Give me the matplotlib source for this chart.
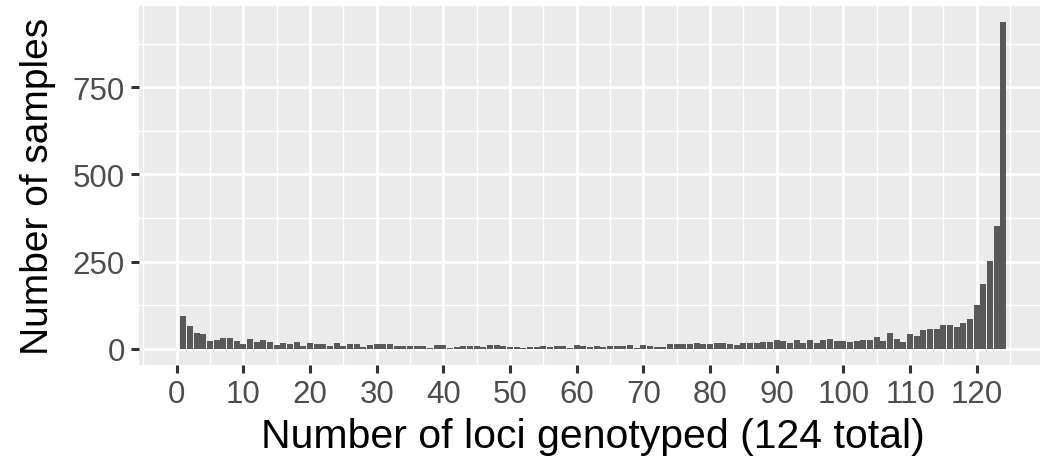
import matplotlib
matplotlib.use("Agg")
import matplotlib.pyplot as plt
from matplotlib.ticker import MultipleLocator

loci = list(range(1, 125))
samples = [
    95, 66, 46, 43, 22, 26, 31, 31, 22, 12,
    28, 18, 24, 18, 11, 16, 14, 19, 9, 15,
    12, 12, 9, 15, 9, 14, 14, 6, 10, 13,
    12, 12, 7, 7, 7, 7, 7, 1, 11, 10,
    1, 5, 7, 8, 8, 5, 11, 10, 8, 5,
    5, 1, 5, 6, 8, 6, 8, 8, 3, 10,
    7, 6, 9, 6, 9, 8, 9, 11, 3, 11,
    9, 4, 4, 12, 12, 13, 13, 16, 12, 12,
    15, 15, 14, 11, 17, 17, 17, 20, 20, 25,
    21, 15, 26, 17, 25, 15, 25, 28, 22, 22,
    19, 22, 26, 24, 33, 22, 45, 29, 20, 43,
    37, 53, 57, 57, 69, 69, 61, 73, 85, 125,
    185, 251, 353, 937,
]
x_ticks = list(range(0, 121, 10))
y_ticks = [0, 250, 500, 750]
x_label = "Number of loci genotyped (124 total)"
y_label = "Number of samples"

plt.rcParams['font.family'] = ['Liberation Sans', 'DejaVu Sans']

fig = plt.figure(figsize=(10.4, 4.6), dpi=100)
ax = fig.add_axes([138.7 / 1040, 94 / 460, 909.3 / 1040, 359.3 / 460])
ax.set_facecolor('#EBEBEB')

ax.bar(loci, samples, width=0.86, color='#595959', edgecolor='none', zorder=3)

ymax = max(samples)
ax.set_ylim(-0.05 * ymax, 1.05 * ymax)
xr = 124
ax.set_xlim(0.5 - 0.05 * xr, 124.5 + 0.05 * xr)

ax.set_xticks(x_ticks)
ax.set_yticks(y_ticks)
ax.xaxis.set_minor_locator(MultipleLocator(5))
ax.yaxis.set_minor_locator(MultipleLocator(125))
ax.grid(which='major', color='white', linewidth=2.0, zorder=1)
ax.grid(which='minor', color='white', linewidth=1.0, zorder=1)
ax.set_axisbelow(True)

for s in ax.spines.values():
    s.set_visible(False)

ax.tick_params(which='major', length=6, width=2.2, color='#333333',
               labelsize=22.5, labelcolor='#4D4D4D', pad=4)
ax.tick_params(which='minor', length=0)

ax.set_xlabel(x_label, fontsize=29.5, color='black', labelpad=6)
ax.set_ylabel(y_label, fontsize=28, color='black', labelpad=12)

fig.savefig('out.png', dpi=100)
